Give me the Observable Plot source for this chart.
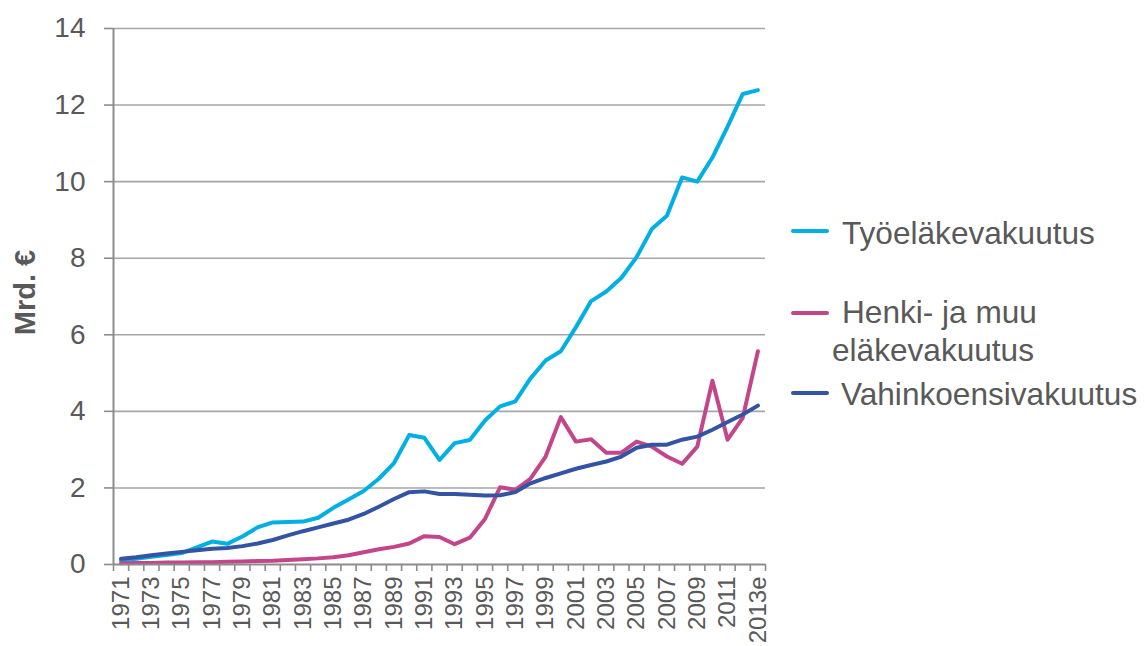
<!DOCTYPE html>
<html>
<head>
<meta charset="utf-8">
<script src="https://cdn.jsdelivr.net/npm/d3@7"></script>
<script src="https://cdn.jsdelivr.net/npm/@observablehq/plot@0.6"></script>
<style>
  html, body { margin: 0; padding: 0; background: #fff; }
  #wrap { position: relative; width: 1145px; height: 646px; font-family: "Liberation Sans", Arial, sans-serif; color: #595959; }
  #legend { position: absolute; left: 0; top: 0; width: 1145px; height: 646px; pointer-events: none; }
  .lg-swatch { position: absolute; left: 0; width: 38px; height: 4px; border-radius: 2px; }
  .lg-text { position: absolute; white-space: nowrap; font-size: 31.6px; line-height: 38px; }
</style>
</head>
<body>
<div id="wrap"><div id="chart"></div><div id="legend"></div></div>
<script>
const years = [1971,1972,1973,1974,1975,1976,1977,1978,1979,1980,1981,1982,1983,1984,1985,1986,1987,1988,1989,1990,1991,1992,1993,1994,1995,1996,1997,1998,1999,2000,2001,2002,2003,2004,2005,2006,2007,2008,2009,2010,2011,2012,2013];
const yearLabels = ["1971","1972","1973","1974","1975","1976","1977","1978","1979","1980","1981","1982","1983","1984","1985","1986","1987","1988","1989","1990","1991","1992","1993","1994","1995","1996","1997","1998","1999","2000","2001","2002","2003","2004","2005","2006","2007","2008","2009","2010","2011","2012","2013e"];

const tyoelake = [0.10,0.15,0.20,0.25,0.30,0.45,0.60,0.54,0.73,0.97,1.10,1.11,1.12,1.22,1.48,1.70,1.92,2.24,2.65,3.38,3.31,2.73,3.17,3.25,3.76,4.13,4.26,4.86,5.33,5.57,6.20,6.88,7.13,7.49,8.03,8.76,9.11,10.11,10.00,10.63,11.44,12.29,12.39];
const henki = [0.03,0.04,0.04,0.05,0.05,0.06,0.06,0.07,0.08,0.09,0.10,0.12,0.14,0.16,0.19,0.24,0.32,0.40,0.46,0.55,0.74,0.72,0.53,0.70,1.19,2.02,1.95,2.24,2.82,3.85,3.21,3.27,2.92,2.92,3.21,3.08,2.82,2.63,3.08,4.80,3.26,3.83,5.57];
const vahinko = [0.15,0.19,0.24,0.29,0.33,0.37,0.41,0.43,0.48,0.55,0.64,0.76,0.87,0.97,1.07,1.17,1.32,1.51,1.71,1.89,1.91,1.84,1.84,1.82,1.80,1.81,1.89,2.12,2.26,2.38,2.50,2.60,2.69,2.82,3.05,3.13,3.13,3.26,3.34,3.52,3.72,3.92,4.15];

const seriesNames = ["Työeläkevakuutus", "Henki- ja muu eläkevakuutus", "Vahinkoensivakuutus"];
const seriesColors = ["#00b0e4", "#c4468a", "#3353a3"];
const yTicks = [0,2,4,6,8,10,12,14];
const yLabel = "Mrd. €";

const seriesValues = [tyoelake, henki, vahinko];
const data = seriesValues.flatMap((vals, i) => years.map((yr, j) => ({year: yr, value: vals[j], series: seriesNames[i]})));
const labelYears = years.filter((y, i) => i % 2 === 0);
const boundaries = [years[0] - 0.5, ...years.map(y => y + 0.5)];
const labelOf = new Map(years.map((y, i) => [y, yearLabels[i]]));

const chart = Plot.plot({
  width: 1145,
  height: 646,
  marginLeft: 113,
  marginRight: 380,
  marginTop: 28,
  marginBottom: 82,
  style: {fontFamily: "'Liberation Sans', Arial, sans-serif", color: "#595959", background: "#fff", overflow: "visible"},
  x: {type: "linear", domain: [years[0] - 0.5, years[years.length - 1] + 0.5]},
  y: {domain: [0, 14]},
  color: {domain: seriesNames, range: seriesColors},
  marks: [
    Plot.gridY(yTicks.filter(d => d > 0), {stroke: "#a6a6a6", strokeOpacity: 1, strokeWidth: 1.6}),
    Plot.line(data, {x: "year", y: "value", z: "series", stroke: "series", strokeWidth: 4, strokeLinejoin: "round", strokeLinecap: "round"}),
    Plot.ruleX([years[0] - 0.5], {stroke: "#8c8c8c", strokeWidth: 2}),
    Plot.ruleY([0], {stroke: "#8c8c8c", strokeWidth: 2}),
    Plot.axisY({ticks: yTicks, tickSize: 9, tickPadding: 19, fontSize: 28, stroke: "#8c8c8c", strokeWidth: 1.6, fill: "#595959", label: null}),
    Plot.axisX({ticks: boundaries, tickSize: 7, tickFormat: () => "", stroke: "#8c8c8c", strokeWidth: 1.6, label: null}),
    Plot.axisX({ticks: labelYears, tickSize: 0, tickPadding: 12, tickRotate: -90, fontSize: 24, fill: "#595959", tickFormat: d => labelOf.get(d), label: null}),
    Plot.text([yLabel], {text: d => d, frameAnchor: "left", textAnchor: "middle", rotate: -90, dx: -88, dy: -4, fontSize: 29, fontWeight: "bold", fill: "#595959"})
  ]
});
document.getElementById("chart").appendChild(chart);

// legend (right side)
const legendLayout = [
  {sw: 231, lines: [{t: "Työeläkevakuutus", x: 842, base: 243}]},
  {sw: 313, lines: [{t: "Henki- ja muu", x: 842, base: 322}, {t: "eläkevakuutus", x: 832, base: 360}]},
  {sw: 393, lines: [{t: "Vahinkoensivakuutus", x: 841, base: 404}]}
];
const legend = document.getElementById("legend");
seriesNames.forEach((name, i) => {
  const sw = document.createElement("div");
  sw.className = "lg-swatch";
  sw.style.left = "791px";
  sw.style.top = (legendLayout[i].sw - 2) + "px";
  sw.style.background = seriesColors[i];
  legend.appendChild(sw);
  legendLayout[i].lines.forEach(l => {
    const t = document.createElement("div");
    t.className = "lg-text";
    t.textContent = l.t;
    t.style.left = l.x + "px";
    t.style.top = (l.base - 29) + "px";
    legend.appendChild(t);
  });
});
</script>
</body>
</html>
